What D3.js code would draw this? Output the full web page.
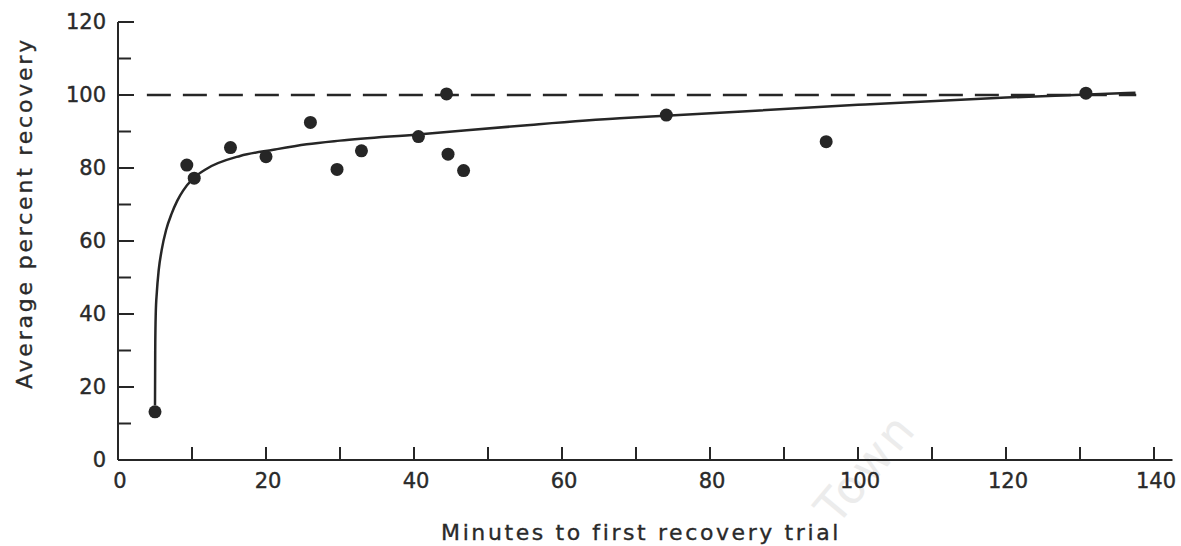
<!DOCTYPE html>
<html>
<head>
<meta charset="utf-8">
<script src="https://cdn.jsdelivr.net/npm/d3@7"></script>
<style>
  html, body { margin: 0; padding: 0; background: #fff; }
  svg { display: block; }
  .tick-label { font-family: "DejaVu Sans", sans-serif; font-size: 21px; fill: #2a2a2a; stroke: #2a2a2a; stroke-width: 0.4px; }
  .axis-title { font-family: "DejaVu Sans", sans-serif; font-size: 22px; fill: #2a2a2a; stroke: #2a2a2a; stroke-width: 0.35px; }
</style>
</head>
<body>
<svg id="chart" width="1181" height="546"></svg>
<script>
// Observed recovery trials
const trialMinutes = [5.0, 9.3, 10.3, 15.2, 20.0, 26.0, 29.6, 32.9, 40.6, 44.4, 44.6, 46.7, 74.1, 95.7, 130.8];
const trialPercent = [13.2, 80.8, 77.2, 85.6, 83.1, 92.5, 79.6, 84.7, 88.6, 100.3, 83.8, 79.3, 94.5, 87.2, 100.5];

// Fitted recovery curve, read along its length
const fitMinutes = [5.0, 5.03, 5.1, 5.25, 5.5, 5.9, 6.5, 7.25, 8.0, 8.8, 10.1, 12, 16.5, 21, 25.5, 30, 40.5, 55.7, 67.8, 74, 100, 120, 137.5];
const fitPercent = [15, 30, 40, 46, 52, 57.5, 63, 67.5, 71, 73.8, 77, 79.8, 83.3, 85, 86.5, 87.5, 89.2, 91.8, 93.6, 94.3, 97.3, 99.3, 100.6];

// Complete-recovery reference level
const fullRecovery = 100;
const fullRecoveryRange = [3.9, 137.6];

// Axis ticks
const xTickValues = [0, 20, 40, 60, 80, 100, 120, 140];
const xMinorTicks = [10, 20, 30, 40, 50, 60, 70, 80, 90, 100, 110, 120, 130, 140];
const yTickValues = [0, 20, 40, 60, 80, 100, 120];
const yMinorTicks = [10, 20, 30, 40, 50, 60, 70, 80, 90, 100, 110, 120];

const xTitle = "Minutes to first recovery trial";
const yTitle = "Average percent recovery";
const watermark = "Town";

const svg = d3.select("#chart");
const ink = "#262626";

const x = d3.scaleLinear().domain([0, 140]).range([118, 1154]);
const y = d3.scaleLinear().domain([0, 100]).range([460, 95]);

// faint watermark behind the plot
svg.append("text")
  .attr("transform", "translate(868,470) rotate(-50)")
  .attr("text-anchor", "middle")
  .attr("dominant-baseline", "middle")
  .style("font-family", "'DejaVu Sans', sans-serif")
  .style("font-size", "46px")
  .style("fill", "#ececec")
  .style("letter-spacing", "3px")
  .text(watermark);

const g = svg.append("g");

// axes lines
g.append("line")
  .attr("x1", x(0)).attr("x2", x(0))
  .attr("y1", y(0)).attr("y2", y(120))
  .attr("stroke", ink).attr("stroke-width", 2);
g.append("line")
  .attr("x1", x(0)).attr("x2", x(142.5))
  .attr("y1", y(0)).attr("y2", y(0))
  .attr("stroke", ink).attr("stroke-width", 2);

// y ticks point inward
g.selectAll("line.ytick").data(yMinorTicks).join("line")
  .attr("class", "ytick")
  .attr("x1", x(0)).attr("x2", d => x(0) + (d % 20 === 0 ? 16 : 13))
  .attr("y1", d => y(d)).attr("y2", d => y(d))
  .attr("stroke", ink).attr("stroke-width", 2);

// x ticks point up
g.selectAll("line.xtick").data(xMinorTicks).join("line")
  .attr("class", "xtick")
  .attr("x1", d => x(d)).attr("x2", d => x(d))
  .attr("y1", y(0)).attr("y2", y(0) - 13)
  .attr("stroke", ink).attr("stroke-width", 2);

// tick labels
g.selectAll("text.ylab").data(yTickValues).join("text")
  .attr("class", "tick-label ylab")
  .attr("x", 106).attr("y", d => y(d))
  .attr("text-anchor", "end")
  .attr("dominant-baseline", "central")
  .text(d => d);

g.selectAll("text.xlab").data(xTickValues).join("text")
  .attr("class", "tick-label xlab")
  .attr("x", d => x(d) + 2).attr("y", 481)
  .attr("text-anchor", "middle")
  .attr("dominant-baseline", "central")
  .text(d => d);

// axis titles
svg.append("text")
  .attr("class", "axis-title")
  .attr("x", 641).attr("y", 532)
  .attr("text-anchor", "middle")
  .attr("dominant-baseline", "central")
  .style("letter-spacing", "2.6px")
  .text(xTitle);

svg.append("text")
  .attr("class", "axis-title")
  .attr("transform", "translate(24,213) rotate(-90)")
  .attr("text-anchor", "middle")
  .attr("dominant-baseline", "central")
  .style("letter-spacing", "2.8px")
  .text(yTitle);

// dashed 100% line
g.append("line")
  .attr("x1", x(fullRecoveryRange[0])).attr("x2", x(fullRecoveryRange[1]))
  .attr("y1", y(fullRecovery)).attr("y2", y(fullRecovery))
  .attr("stroke", ink).attr("stroke-width", 2.5)
  .attr("stroke-dasharray", "24,12");

// fitted curve
const fitData = fitMinutes.map((m, i) => [m, fitPercent[i]]);
g.append("path")
  .datum(fitData)
  .attr("fill", "none")
  .attr("stroke", ink)
  .attr("stroke-width", 2.5)
  .attr("d", d3.line().x(d => x(d[0])).y(d => y(d[1])).curve(d3.curveMonotoneX));

// observed points
const trials = trialMinutes.map((m, i) => [m, trialPercent[i]]);
g.selectAll("circle.trial").data(trials).join("circle")
  .attr("class", "trial")
  .attr("cx", d => x(d[0])).attr("cy", d => y(d[1]))
  .attr("r", 6.5)
  .attr("fill", ink);
</script>
</body>
</html>
